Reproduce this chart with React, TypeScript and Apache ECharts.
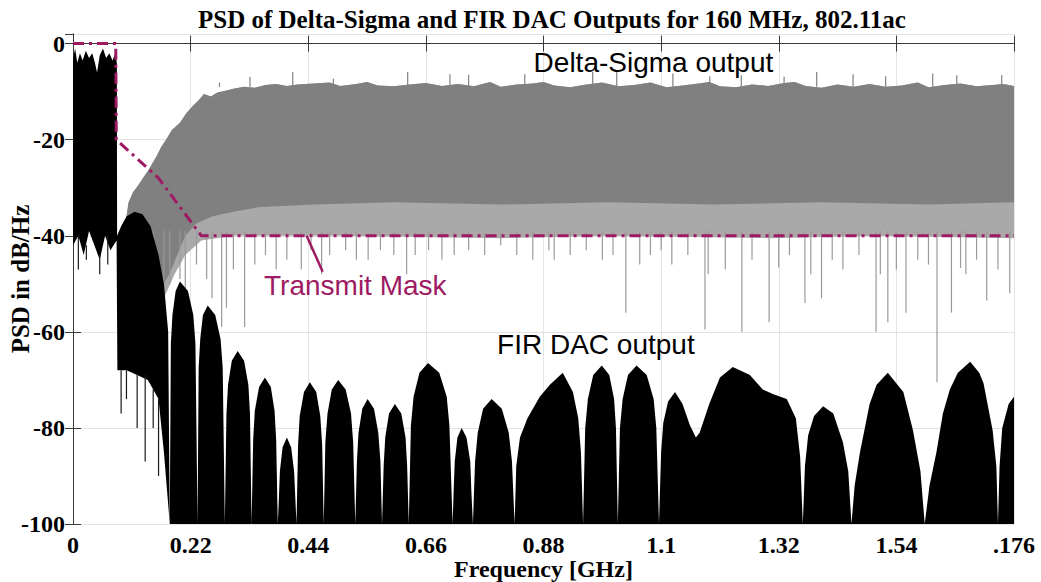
import React, { useEffect, useRef } from 'react';
import * as echarts from 'echarts';

type P = [number, number];

// ---------- axes ----------
const xTickValues = [0, 0.22, 0.44, 0.66, 0.88, 1.1, 1.32, 1.54, 1.76];
const xTickLabels = ['0', '0.22', '0.44', '0.66', '0.88', '1.1', '1.32', '1.54', '.176'];
const yMin = -100;
const yMax = 2;
const yStep = 20;

const titleText = 'PSD of Delta-Sigma and FIR DAC Outputs for 160 MHz, 802.11ac';
const xName = 'Frequency [GHz]';
const yName = 'PSD in dB/Hz';

// ---------- Delta-Sigma output (gray) ----------
const dsUpper: P[] = [
  [0.100, -36], [0.104, -33], [0.112, -31], [0.122, -29.5], [0.131, -28], [0.140, -26.5], [0.148, -25],
  [0.156, -23.5], [0.165, -21.5], [0.174, -20], [0.185, -18], [0.200, -16.5], [0.212, -14.5], [0.224, -13],
  [0.235, -11.8], [0.245, -10.5], [0.258, -11], [0.270, -10.2], [0.285, -9.8], [0.30, -9.4], [0.32, -9],
  [0.34, -9.2], [0.36, -8.6], [0.38, -8.4], [0.40, -8.8], [0.42, -8.5], [0.45, -8.3], [0.48, -8.1],
  [0.50, -8.8], [0.53, -8.4], [0.55, -8], [0.57, -8.7], [0.60, -8.9], [0.63, -8.5], [0.66, -8.2],
  [0.69, -8.8], [0.72, -8.4], [0.75, -8.9], [0.78, -8], [0.80, -9], [0.83, -8.5], [0.86, -8.3], [0.88, -8],
  [0.90, -8.7], [0.93, -9.1], [0.96, -8.5], [0.99, -8.1], [1.02, -8.9], [1.05, -8.6], [1.08, -8.1],
  [1.11, -9.1], [1.14, -8.7], [1.17, -8.3], [1.19, -8], [1.21, -8.9], [1.24, -9.1], [1.27, -8.5],
  [1.30, -8.8], [1.33, -8.2], [1.35, -8], [1.37, -8.8], [1.40, -9.2], [1.43, -8.5], [1.46, -9],
  [1.49, -8.4], [1.52, -9], [1.55, -8.7], [1.58, -8.1], [1.60, -9.1], [1.63, -8.6], [1.66, -8.3],
  [1.69, -8.9], [1.72, -8.6], [1.74, -8.4], [1.76, -8.8],
];
const dsDenseLower: P[] = [
  [0.100, -42], [0.115, -46], [0.13, -48], [0.15, -50], [0.165, -51], [0.18, -48], [0.195, -44],
  [0.21, -40], [0.23, -37.5], [0.26, -36], [0.30, -35], [0.35, -34], [0.45, -33.5], [0.6, -33],
  [0.8, -33.5], [1.0, -33], [1.2, -33.5], [1.4, -33], [1.6, -33.5], [1.76, -33],
];
const dsCombLower: P[] = [
  [0.100, -44], [0.12, -50], [0.15, -53], [0.17, -53], [0.19, -48], [0.21, -44], [0.24, -41],
  [0.3, -40], [0.5, -40], [0.8, -40.5], [1.0, -40], [1.3, -40.5], [1.5, -40], [1.76, -40.5],
];
const dsSpikeStart = -39;
const dsDownSpikes: P[] = [
  [0.15, -48], [0.17, -52], [0.181, -50], [0.2, -49], [0.21, -52], [0.231, -46], [0.25, -49], [0.26, -53],
  [0.278, -59], [0.287, -55], [0.30, -47], [0.321, -59], [0.34, -46], [0.36, -44], [0.38, -47], [0.40, -45],
  [0.427, -47], [0.445, -43], [0.465, -48], [0.48, -44], [0.51, -43], [0.53, -45], [0.552, -45], [0.575, -43],
  [0.60, -44], [0.624, -48], [0.64, -44], [0.665, -43], [0.69, -45], [0.713, -44], [0.74, -43], [0.77, -44],
  [0.80, -42], [0.83, -44], [0.86, -45], [0.89, -43], [0.90, -45], [0.93, -44], [0.96, -43], [0.99, -45],
  [1.01, -44], [1.034, -56], [1.06, -46], [1.08, -44], [1.10, -43], [1.12, -46], [1.15, -44], [1.182, -59.5],
  [1.188, -48], [1.22, -47], [1.251, -60], [1.27, -45], [1.302, -58], [1.32, -46.6], [1.34, -44], [1.369, -54],
  [1.38, -48], [1.40, -53], [1.42, -45], [1.44, -47], [1.47, -44], [1.502, -60], [1.51, -48], [1.524, -58],
  [1.54, -47], [1.558, -56], [1.58, -45], [1.60, -46], [1.616, -70.5], [1.643, -56], [1.66, -46.7], [1.67, -48],
  [1.69, -45], [1.709, -53.5], [1.73, -47], [1.752, -52],
];
const dsUpSpikeStart = -9;
const dsUpSpikes: P[] = [
  [0.274, -8.1], [0.331, -6.9], [0.411, -5.9], [0.487, -7.3], [0.626, -5.9], [0.705, -6.4], [0.74, -6.5],
  [0.845, -6.4], [0.972, -5.9], [1.017, -5.9], [1.122, -6.2], [1.191, -6.8], [1.25, -6.6], [1.33, -6.9],
  [1.391, -5.9], [1.459, -6.4], [1.52, -6.8], [1.608, -6.2], [1.653, -6.6], [1.737, -6.6],
];

// ---------- FIR DAC output (black) ----------
const firInbandUpper: P[] = [
  [0, -3], [0.004, -1], [0.008, -4], [0.013, -2], [0.018, -3.5], [0.024, -1.5], [0.03, -3], [0.036, -2],
  [0.041, -4], [0.045, -6], [0.05, -2.5], [0.056, -1], [0.062, -3], [0.068, -2], [0.074, -3.5], [0.079, -2],
  [0.082, -4], [0.0825, -40], [0.09, -38], [0.1, -36], [0.115, -35], [0.13, -35.5], [0.145, -38], [0.16, -44],
  [0.17, -50], [0.178, -60], [0.181, -100],
];
const firInbandLower: P[] = [
  [0, -42], [0.01, -40], [0.02, -44], [0.03, -39], [0.04, -42], [0.05, -45], [0.06, -40], [0.07, -43],
  [0.0815, -41], [0.083, -68], [0.1, -68], [0.12, -69], [0.14, -70], [0.16, -74], [0.17, -85], [0.181, -100],
];
const firLobes: P[] = [
  [0.181, -100], [0.183, -62.5], [0.186, -56.5], [0.192, -51.5], [0.200, -49.5], [0.215, -51.5], [0.225, -56.5], [0.229, -62.5], [0.233, -100],
  [0.235, -67.5], [0.238, -61.5], [0.243, -56.5], [0.252, -54.5], [0.266, -56.5], [0.276, -61.5], [0.280, -67.5], [0.284, -100],
  [0.287, -77], [0.290, -71], [0.297, -66], [0.308, -64], [0.320, -66], [0.328, -71], [0.331, -77], [0.334, -100],
  [0.337, -82.5], [0.340, -76.5], [0.348, -71.5], [0.359, -69.5], [0.370, -71.5], [0.377, -76.5], [0.380, -82.5], [0.383, -100],
  [0.385, -95], [0.387, -89], [0.392, -84], [0.400, -82], [0.408, -84], [0.4135, -89], [0.416, -95], [0.418, -100],
  [0.421, -83.5], [0.424, -77.5], [0.432, -72.5], [0.443, -70.5], [0.455, -72.5], [0.4625, -77.5], [0.466, -83.5], [0.469, -100],
  [0.472, -83], [0.476, -77], [0.484, -72], [0.496, -70], [0.510, -72], [0.520, -77], [0.524, -83], [0.528, -100],
  [0.531, -87], [0.534, -81], [0.541, -76], [0.551, -74], [0.563, -76], [0.571, -81], [0.575, -87], [0.578, -100],
  [0.581, -88], [0.584, -82], [0.591, -77], [0.602, -75], [0.614, -77], [0.622, -82], [0.625, -88], [0.628, -100],
  [0.632, -79.5], [0.637, -73.5], [0.648, -68.5], [0.664, -66.5], [0.685, -68.5], [0.699, -73.5], [0.704, -79.5], [0.710, -100],
  [0.712, -93], [0.714, -87], [0.719, -82], [0.727, -80], [0.736, -82], [0.743, -87], [0.745, -93], [0.748, -100],
  [0.752, -87], [0.757, -81], [0.767, -76], [0.783, -74], [0.802, -76], [0.815, -81], [0.821, -87], [0.826, -100],
  [0.829, -88], [0.836, -82], [0.850, -78], [0.873, -73.5], [0.892, -71], [0.916, -68.5], [0.935, -72.5], [0.945, -78], [0.950, -85], [0.954, -100],
  [0.958, -80], [0.963, -74], [0.973, -69], [0.989, -67], [1.003, -69], [1.012, -74], [1.0155, -80], [1.019, -100],
  [1.023, -80], [1.028, -74], [1.038, -69], [1.054, -67], [1.073, -69], [1.086, -74], [1.091, -80], [1.096, -100],
  [1.100, -85], [1.104, -79], [1.113, -74.5], [1.126, -72.5], [1.140, -75], [1.154, -79.5], [1.165, -82], [1.172, -81],
  [1.190, -75], [1.210, -69.5], [1.234, -67.3], [1.266, -69], [1.290, -72], [1.310, -73], [1.335, -74], [1.352, -78], [1.360, -86], [1.365, -100],
  [1.369, -88], [1.375, -81.5], [1.386, -77.5], [1.403, -75.5], [1.422, -77], [1.440, -83], [1.450, -89], [1.456, -100],
  [1.462, -92], [1.472, -85], [1.490, -75], [1.503, -71], [1.524, -68.5], [1.553, -72.5], [1.571, -80.5], [1.585, -89], [1.593, -100],
  [1.602, -92], [1.615, -85], [1.627, -77], [1.640, -72], [1.655, -68.5], [1.678, -66.2], [1.695, -68.5], [1.703, -70.7], [1.720, -80.5], [1.727, -88], [1.730, -100],
  [1.733, -88], [1.738, -80], [1.750, -75], [1.760, -73.5],
];
const firLobesLower: P[] = [[0.181, -100], [1.76, -100]];
const firDownSpikes: [number, number, number][] = [
  [0.01, -40, -47], [0.025, -42, -45], [0.05, -44, -48], [0.065, -40, -46],
  [0.09, -68, -77], [0.1, -68, -74], [0.12, -69, -80], [0.135, -69, -87], [0.15, -72, -80], [0.16, -74, -90],
];

// ---------- transmit mask ----------
const maskPoints: P[] = [[0, 0], [0.080, 0], [0.081, -20], [0.16, -28], [0.24, -40], [1.76, -40]];
const maskLeader: P[] = [[0.437, -40], [0.467, -47.5]];

// ---------- annotations ----------
const annotations: { text: string; at: P; color: string }[] = [
  { text: 'Delta-Sigma output', at: [1.0856, -4.0], color: '#000000' },
  { text: 'FIR DAC output', at: [0.978, -62.7], color: '#000000' },
  { text: 'Transmit Mask', at: [0.528, -50.3], color: '#9e1a62' },
];

const MASK_COLOR = '#9e1a62';
const SERIF = '"Liberation Serif", "Times New Roman", serif';
const SANS = '"Liberation Sans", Arial, sans-serif';

function polygonSeries(upper: P[], lower: P[], color: string, z: number) {
  return {
    type: 'custom',
    z,
    silent: true,
    clip: true,
    xAxisIndex: 0,
    yAxisIndex: 0,
    data: [[upper[0][0], upper[0][1]]],
    renderItem: (_params: any, api: any) => {
      const pts = upper.map((p) => api.coord(p)).concat(lower.slice().reverse().map((p) => api.coord(p)));
      return { type: 'polygon', shape: { points: pts }, style: { fill: color } };
    },
  };
}

function spikeSeries(data: [number, number, number][], color: string, width: number, z: number) {
  return {
    type: 'custom',
    z,
    silent: true,
    clip: true,
    xAxisIndex: 0,
    yAxisIndex: 0,
    data,
    encode: { x: 0, y: [1, 2] },
    renderItem: (_params: any, api: any) => {
      const a = api.coord([api.value(0), api.value(1)]);
      const b = api.coord([api.value(0), api.value(2)]);
      return {
        type: 'line',
        shape: { x1: a[0], y1: a[1], x2: b[0], y2: b[1] },
        style: { stroke: color, lineWidth: width },
      };
    },
  };
}

function xLabel(v: number) {
  const i = xTickValues.findIndex((t) => Math.abs(t - v) < 1e-6);
  return i >= 0 ? xTickLabels[i] : '';
}

function buildOption() {
  const axisColor = '#3a3a3a';
  const gridColor = '#e3e3e3';
  const baseX = {
    type: 'value',
    min: xTickValues[0],
    max: xTickValues[xTickValues.length - 1],
    interval: 0.22,
    axisLine: { show: true, lineStyle: { color: axisColor, width: 1 } },
    axisTick: { show: true, inside: true, length: 8, lineStyle: { color: axisColor } },
  };
  const baseY = {
    type: 'value',
    min: yMin,
    max: yMax,
    interval: yStep,
    axisLine: { show: true, lineStyle: { color: axisColor, width: 1 } },
    axisTick: { show: true, inside: true, length: 8, lineStyle: { color: axisColor } },
  };
  return {
    animation: false,
    backgroundColor: '#ffffff',
    title: {
      text: titleText,
      left: 198,
      top: 7,
      padding: 0,
      textStyle: { fontFamily: SERIF, fontWeight: 'bold', fontSize: 25, color: '#000' },
    },
    grid: { left: 73, right: 27, top: 34, bottom: 58, containLabel: false, outerBoundsMode: 'none' },
    xAxis: [
      {
        ...baseX,
        position: 'bottom',
        name: xName,
        nameLocation: 'middle',
        nameGap: 35,
        nameMoveOverlap: false,
        nameTextStyle: { fontFamily: SERIF, fontWeight: 'bold', fontSize: 24, lineHeight: 20, color: '#000' },
        axisLabel: {
          show: true,
          margin: 10,
          lineHeight: 22,
          formatter: xLabel,
          showMinLabel: true,
          showMaxLabel: true,
          fontFamily: SERIF,
          fontWeight: 'bold',
          fontSize: 24,
          color: '#000',
        },
        splitLine: { show: true, lineStyle: { color: gridColor, width: 1 } },
      },
      {
        ...baseX,
        position: 'top',
        axisLabel: { show: false },
        splitLine: { show: false },
      },
    ],
    yAxis: [
      {
        ...baseY,
        position: 'left',
        name: yName,
        nameLocation: 'middle',
        nameGap: 40,
        nameMoveOverlap: false,
        nameTextStyle: { fontFamily: SERIF, fontWeight: 'bold', fontSize: 25, color: '#000' },
        axisLabel: {
          show: true,
          margin: 8,
          showMaxLabel: false,
          fontFamily: SERIF,
          fontWeight: 'bold',
          fontSize: 24,
          color: '#000',
        },
        splitLine: { show: true, lineStyle: { color: gridColor, width: 1 } },
      },
      {
        ...baseY,
        position: 'right',
        axisLabel: { show: false },
        splitLine: { show: false },
      },
    ],
    series: [
      polygonSeries(dsUpper, dsCombLower, '#a9a9a9', 2),
      polygonSeries(dsUpper, dsDenseLower, '#808080', 3),
      spikeSeries(dsDownSpikes.map(([f, d]) => [f, dsSpikeStart, d] as [number, number, number]), '#9a9a9a', 1.2, 4),
      spikeSeries(dsUpSpikes.map(([f, d]) => [f, dsUpSpikeStart, d] as [number, number, number]), '#808080', 1.2, 4),
      polygonSeries(firInbandUpper, firInbandLower, '#000000', 5),
      polygonSeries(firLobes, firLobesLower, '#000000', 5),
      spikeSeries(firDownSpikes, '#1a1a1a', 1.2, 5),
      {
        type: 'line',
        z: 6,
        silent: true,
        data: maskPoints,
        symbol: 'none',
        lineStyle: { color: MASK_COLOR, width: 3, type: [11, 5, 3, 5] },
      },
      {
        type: 'line',
        z: 6,
        silent: true,
        data: maskLeader,
        symbol: 'none',
        lineStyle: { color: MASK_COLOR, width: 2.5 },
      },
      {
        type: 'scatter',
        z: 7,
        silent: true,
        symbolSize: 0,
        itemStyle: { opacity: 1 },
        data: annotations.map((a) => ({
          value: a.at,
          label: {
            show: true,
            position: 'inside',
            formatter: a.text,
            color: a.color,
            fontFamily: SANS,
            fontSize: 28,
          },
        })),
      },
    ],
  };
}

export default function App() {
  const ref = useRef<HTMLDivElement>(null);
  useEffect(() => {
    document.body.style.margin = '0';
    const chart = echarts.init(ref.current as HTMLDivElement, null, { renderer: 'svg' });
    chart.setOption(buildOption() as any);
    return () => chart.dispose();
  }, []);
  return <div ref={ref} style={{ width: 1041, height: 582 }} />;
}
